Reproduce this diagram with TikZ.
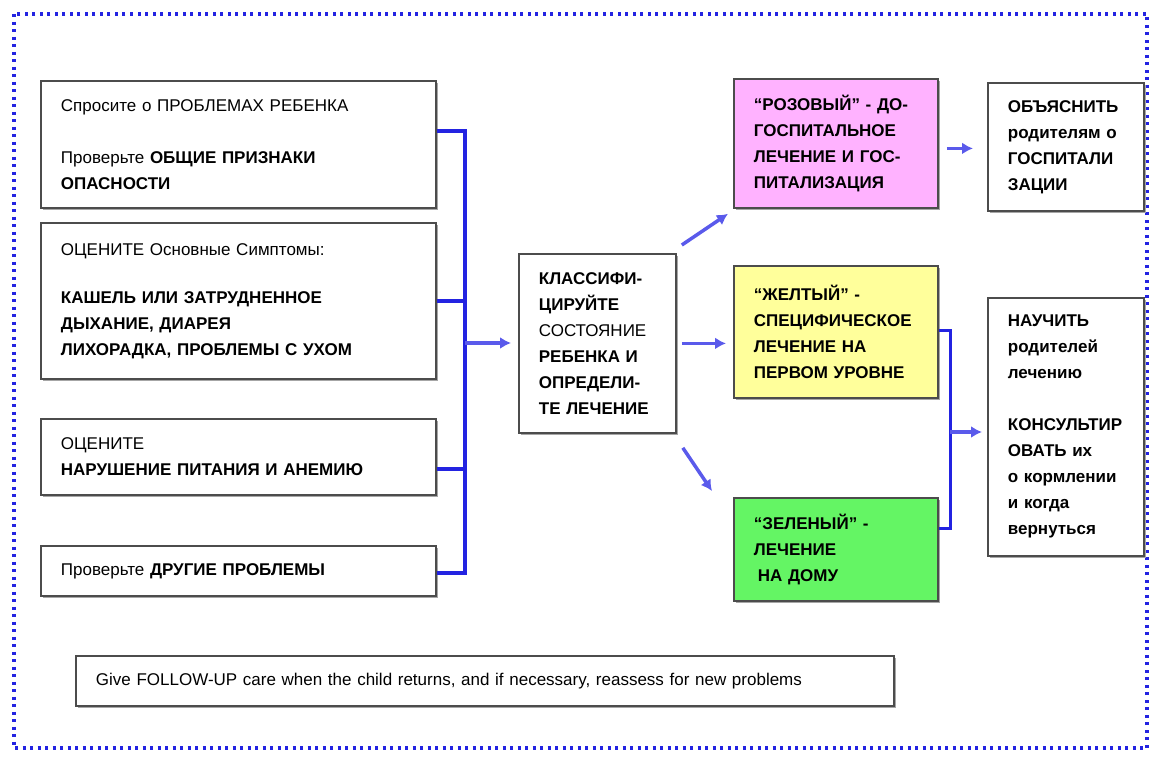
\documentclass[tikz,border=0pt]{standalone}
\usepackage{fontspec}
\setmainfont{Liberation Sans}
\usetikzlibrary{shadows,arrows.meta}
\definecolor{pinkfill}{RGB}{255,178,255}
\definecolor{yellowfill}{RGB}{255,255,155}
\definecolor{greenfill}{RGB}{100,245,100}
\definecolor{busblue}{RGB}{35,35,225}
\definecolor{arrowblue}{RGB}{90,90,235}
\begin{document}
\begin{tikzpicture}[x=1pt, y=-1pt,
    box/.style={draw=black!70, line width=1.8pt, fill=white, anchor=north west, align=left,
        inner xsep=20pt, inner ysep=0pt,
        drop shadow={shadow xshift=2.5pt, shadow yshift=-2.5pt, fill=black!35, opacity=1},
        font=\fontsize{17}{26}\selectfont},
    heavy/.style={font=\fontsize{17}{26}\selectfont\bfseries},
    bus/.style={draw=busblue, line width=4pt},
    arr/.style={draw=arrowblue, line width=3.5pt, -{Latex[length=11pt,width=12pt]}}]
    \useasboundingbox (0,0) rectangle (1159,756);
    \draw[busblue, line width=3.5pt, dash pattern=on 3pt off 4.5pt] (14,14) rectangle (1147,748);

    \node[box, text width=355pt, minimum height=127pt] (ask) at (40,80)
        {Спросите о ПРОБЛЕМАХ РЕБЕНКА\\[26pt]Проверьте \textbf{ОБЩИЕ ПРИЗНАКИ}\\\textbf{ОПАСНОСТИ}};
    \node[box, text width=355pt, minimum height=156pt] (assess) at (40,222)
        {ОЦЕНИТЕ Основные Симптомы:\\[22pt]\textbf{КАШЕЛЬ ИЛИ ЗАТРУДНЕННОЕ}\\\textbf{ДЫХАНИЕ, ДИАРЕЯ}\\\textbf{ЛИХОРАДКА, ПРОБЛЕМЫ С УХОМ}};
    \node[box, text width=355pt, minimum height=76pt] (nutrition) at (40,418)
        {ОЦЕНИТЕ\\\textbf{НАРУШЕНИЕ ПИТАНИЯ И АНЕМИЮ}};
    \node[box, text width=355pt, minimum height=50pt] (other) at (40,545)
        {Проверьте \textbf{ДРУГИЕ ПРОБЛЕМЫ}};
    \node[box, text width=117pt, minimum height=179pt] (classify) at (518,253)
        {\textbf{КЛАССИФИ-}\\\textbf{ЦИРУЙТЕ}\\СОСТОЯНИЕ\\\textbf{РЕБЕНКА И}\\\textbf{ОПРЕДЕЛИ-}\\\textbf{ТЕ ЛЕЧЕНИЕ}};
    \node[box, heavy, fill=pinkfill, text width=164pt, minimum height=129pt] (pink) at (733,78)
        {“РОЗОВЫЙ” - ДО-\\ГОСПИТАЛЬНОЕ\\ЛЕЧЕНИЕ И ГОС-\\ПИТАЛИЗАЦИЯ};
    \node[box, heavy, text width=116pt, minimum height=128pt] (explain) at (987,82)
        {ОБЪЯСНИТЬ\\родителям о\\ГОСПИТАЛИ\\ЗАЦИИ};
    \node[box, heavy, fill=yellowfill, text width=164pt, minimum height=132pt] (yellow) at (733,265)
        {“ЖЕЛТЫЙ” -\\СПЕЦИФИЧЕСКОЕ\\ЛЕЧЕНИЕ НА\\ПЕРВОМ УРОВНЕ};
    \node[box, heavy, fill=greenfill, text width=164pt, minimum height=103pt] (green) at (733,497)
        {“ЗЕЛЕНЫЙ” -\\ЛЕЧЕНИЕ\\\hspace*{4pt}НА ДОМУ};
    \node[box, heavy, text width=116pt, minimum height=258pt] (teach) at (987,297)
        {НАУЧИТЬ\\родителей\\лечению\\[26pt]КОНСУЛЬТИР\\ОВАТЬ их\\о кормлении\\и когда\\вернуться};
    \node[box, text width=778pt, minimum height=50pt] (followup) at (75,655)
        {Give FOLLOW-UP care when the child returns, and if necessary, reassess for new problems};

    \coordinate (hub) at (465,343);
    \draw[bus] ([yshift=13pt]ask.east) -| (hub) |- ([yshift=-2pt]other.east);
    \draw[bus] (assess.east) -- (assess.east -| hub);
    \draw[bus] ([yshift=-12pt]nutrition.east) -- ([yshift=-12pt]nutrition.east -| hub);
    \draw[arr] (hub) -- ([xshift=-7pt]hub -| classify.west);

    \draw[arr] ([shift={(5pt,8pt)}]classify.north east) -- ([shift={(-5pt,-5pt)}]pink.south west);
    \draw[arr] ([xshift=5pt]classify.east) -- ([xshift=-7pt]classify.east -| yellow.west);
    \draw[arr] ([shift={(6pt,-14pt)}]classify.south east) -- ([shift={(-21pt,6pt)}]green.north west);
    \draw[arr] ([xshift=8pt,yshift=-5pt]pink.east) -- ([xshift=-14pt,yshift=-5pt]pink.east -| explain.west);

    \coordinate (hub2) at (950,432);
    \draw[bus, line width=3pt] ([yshift=1pt]yellow.east) -| (hub2) |- ([yshift=21pt]green.east);
    \draw[arr] (hub2) -- ([xshift=-5pt]hub2 -| teach.west);
\end{tikzpicture}
\end{document}
